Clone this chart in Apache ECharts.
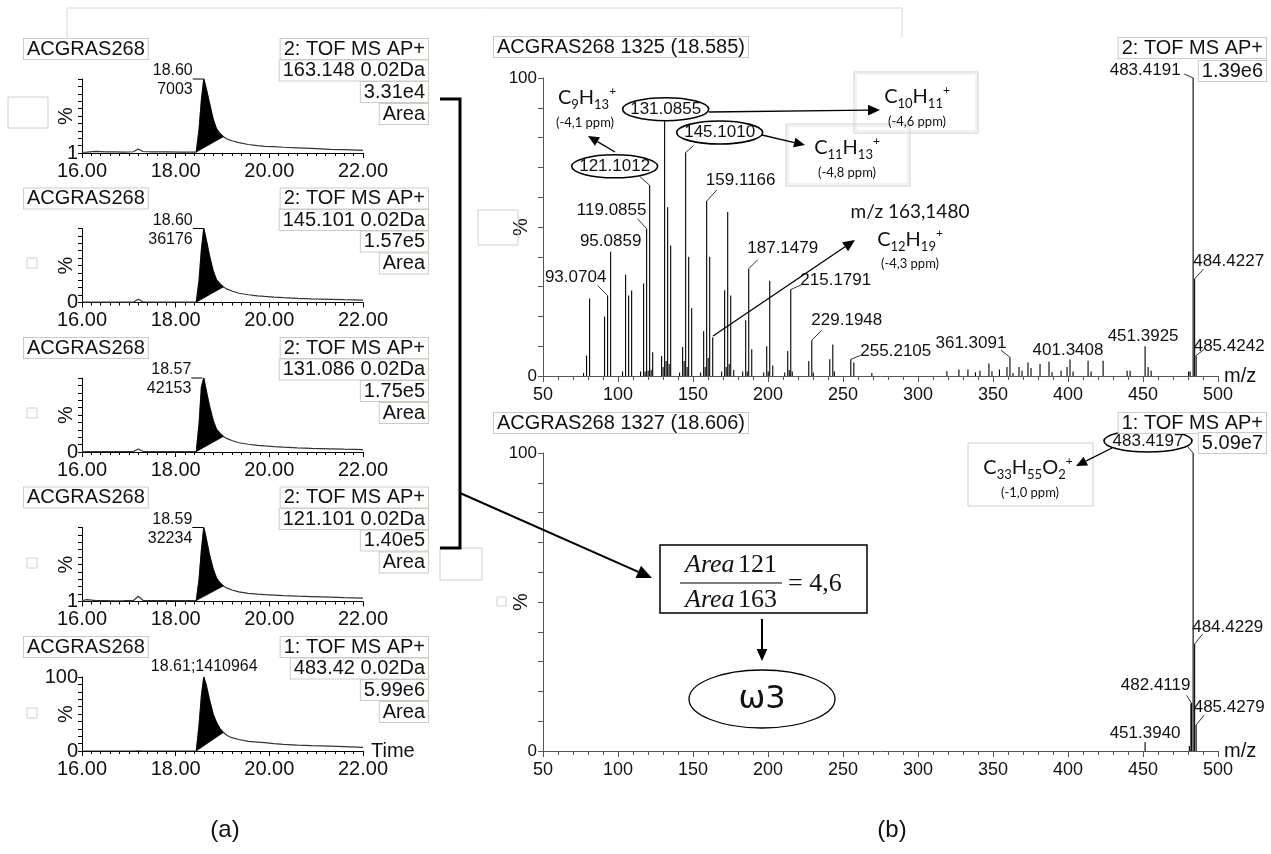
<!DOCTYPE html>
<html>
<head>
<meta charset="utf-8">
<script src="https://cdn.jsdelivr.net/npm/echarts@6/dist/echarts.min.js"></script>
<style>
html, body { margin: 0; padding: 0; background: #fff; }
#main { width: 1271px; height: 854px; }
</style>
</head>
<body>
<div id="main"></div>
<script>
// ---- chromatograms (a) ----
var chromTime = [16.00, 16.10, 16.30, 16.50, 16.70, 16.90, 17.10, 17.20, 17.30, 17.50, 17.80, 18.10, 18.44, 18.50, 18.55, 18.60, 18.65, 18.72, 18.80, 18.87, 18.95, 19.02, 19.10, 19.20, 19.35, 19.55, 19.75, 19.90, 20.10, 20.30, 20.60, 20.90, 21.30, 21.60, 22.00];
var int163 = [1.0, 1.3, 2.2, 1.4, 1.6, 1.3, 1.7, 5.5, 2.0, 1.6, 1.5, 1.3, 1.2, 32, 72, 100, 88, 68, 46, 33, 26, 22, 19, 16.5, 14, 11.5, 10, 9, 8.5, 7.8, 7, 6.2, 5, 4.5, 3.5];
var int145 = [0.4, 0.4, 0.6, 0.5, 0.7, 0.5, 0.6, 4.5, 1.0, 0.6, 0.5, 0.5, 0.5, 30, 72, 100, 86, 64, 43, 31, 25, 21, 18, 15.5, 12.5, 10.5, 9, 8.2, 7.3, 6.5, 5.6, 5, 4.3, 3.8, 3.2];
var int131 = [0.3, 0.4, 0.5, 0.5, 0.6, 0.5, 0.6, 4.0, 0.9, 0.6, 0.5, 0.5, 0.5, 38, 88, 100, 84, 63, 43, 31, 25, 21, 18, 15.5, 12.5, 10.5, 9, 8.2, 7.3, 6.5, 5.6, 5, 4.3, 3.8, 3.2];
var int121 = [1.0, 2.5, 1.2, 1.2, 1.0, 1.1, 1.3, 7.0, 1.6, 1.3, 1.2, 1.2, 1.2, 30, 70, 100, 86, 64, 44, 32, 25, 21, 18, 15.5, 13, 11, 10, 9.3, 8.7, 8, 7.2, 6.6, 5.8, 5.2, 4.5];
var int483 = [0, 0, 0, 0, 0, 0, 0, 0.2, 0, 0, 0, 0, 0, 35, 75, 100, 90, 70, 50, 39, 30, 25, 21, 18, 15.5, 13, 12, 11.2, 10, 9, 8, 7.2, 6.5, 5.8, 5];
var chromInt = [int163, int145, int131, int121, int483];
var chromFunc = ['2: TOF MS AP+', '2: TOF MS AP+', '2: TOF MS AP+', '2: TOF MS AP+', '1: TOF MS AP+'];
var chromMass = ['163.148 0.02Da', '145.101 0.02Da', '131.086 0.02Da', '121.101 0.02Da', '483.42 0.02Da'];
var chromTotal = ['3.31e4', '1.57e5', '1.75e5', '1.40e5', '5.99e6'];
var chromYMin = ['1', '0', '0', '1', '0'];
var chromPeakTime = [18.60, 18.60, 18.57, 18.59, 18.61];
var chromPeakCount = ['7003', '36176', '42153', '32234', '1410964'];
var chromFillStart = [18.44, 18.44, 18.44, 18.44, 18.44];
var chromFillEnd = [19.02, 19.02, 19.02, 19.02, 19.02];
var sampleName = 'ACGRAS268';

// ---- mass spectra (b) ----
var topMz = [77.04, 79.05, 81.07, 91.05, 93.0704, 95.0859, 103.05, 105.07, 107.09, 109.10, 115.05, 117.07, 118.08, 119.0855, 120.09, 121.1012, 122.10, 123.12, 129.07, 130.08, 131.0855, 132.09, 133.10, 134.10, 135.12, 141.07, 143.09, 144.09, 145.1010, 146.10, 147.12, 149.13, 155.09, 157.10, 158.11, 159.1166, 160.12, 161.13, 163.148, 169.10, 171.10, 172.11, 173.13, 174.13, 175.15, 177.16, 183.12, 185.13, 186.14, 187.1479, 189.16, 197.13, 199.15, 200.15, 201.16, 203.18, 211.15, 213.16, 214.17, 215.1791, 216.18, 227.18, 229.1948, 230.20, 241.19, 243.21, 244.21, 255.2105, 257.23, 269.23, 319.26, 327.28, 333.29, 338.30, 341.30, 347.29, 349.31, 354.30, 359.32, 361.3091, 363.32, 367.34, 369.35, 373.33, 375.35, 381.35, 387.35, 389.36, 395.37, 399.36, 401.3408, 403.36, 413.38, 415.39, 423.40, 439.40, 441.41, 451.3925, 453.40, 455.42, 480.40, 481.41, 483.4191, 484.4227, 485.4242];
var topPct = [1.0, 6.9, 26, 20, 27, 41.7, 1.5, 34, 27, 28.7, 1.5, 31, 1.5, 49.4, 1.8, 64, 2.0, 8, 6.7, 3, 85.5, 5, 56.6, 4, 43.8, 1.2, 9.7, 5, 75, 3, 40, 22.7, 1.2, 15, 3, 58.7, 6, 40, 13, 1.5, 28.8, 3, 55, 4, 27, 2, 1.5, 18.7, 1.5, 36, 9, 1.2, 10, 1.5, 32, 3.5, 1.2, 8.4, 2, 29, 1.5, 5, 12, 1.2, 5.6, 10.6, 1.5, 5.6, 4.5, 1.0, 1.6, 2.2, 2.2, 1.3, 1.8, 4.2, 1.6, 2.2, 3, 6.3, 1.0, 3, 1.8, 4.5, 2.7, 4, 4.8, 1.3, 1.8, 3, 5.5, 1.5, 5.1, 1.5, 5.1, 1.8, 1.8, 10, 3, 1.8, 1.5, 1.5, 100, 32.6, 6.9];
var topLabels = ['93.0704', '95.0859', '119.0855', '121.1012', '131.0855', '145.1010', '159.1166', '187.1479', '215.1791', '229.1948', '255.2105', '361.3091', '401.3408', '451.3925', '483.4191', '484.4227', '485.4242'];
var topCircled = ['121.1012', '131.0855', '145.1010'];

var bottomMz = [451.3940, 480.90, 481.95, 482.4119, 483.4197, 484.4229, 485.4279];
var bottomPct = [3.0, 1.7, 16, 16, 100, 35.9, 8.7];
var bottomLabels = ['451.3940', '482.4119', '484.4229', '485.4279'];

var FONT = 'Liberation Sans, Arial, sans-serif';
var CAL = 'Lato, Open Sans, sans-serif';

// label placement relative to the peak top (text centre dx/dy, leader end lx/ly)
var labelNudge = {
    '93.0704': { dx: -32, dy: -18, lx: -10, ly: -10 },
    '95.0859': { dx: 0, dy: -10 },
    '119.0855': { dx: -35, dy: -18, lx: -9, ly: -10 },
    '121.1012': { dx: -35, dy: -19, lx: -10, ly: -9 },
    '131.0855': { dx: 1, dy: -12 },
    '145.1010': { dx: 34, dy: -20, lx: 8, ly: -7 },
    '159.1166': { dx: 34, dy: -21, lx: 10, ly: -11 },
    '187.1479': { dx: 34, dy: -20, lx: 9, ly: -9 },
    '215.1791': { dx: 45, dy: -9, lx: 11, ly: -5 },
    '229.1948': { dx: 35, dy: -20, lx: 10, ly: -10 },
    '255.2105': { dx: 45, dy: -8, lx: 10, ly: -4 },
    '361.3091': { dx: -39, dy: -14, lx: -9, ly: -7 },
    '401.3408': { dx: -2, dy: -9 },
    '451.3925': { dx: -2, dy: -10 },
    '483.4191': { dx: -48, dy: -8, lx: -9, ly: -4 },
    '484.4227': { dx: 34, dy: -18, lx: 9, ly: -10 },
    '485.4242': { dx: 33, dy: -9, lx: 8, ly: -6 },
    '451.3940': { dx: 0, dy: -9 },
    '482.4119': { dx: -36, dy: -18, lx: -5, ly: -8 },
    '484.4229': { dx: 33, dy: -17, lx: 8, ly: -10 },
    '485.4279': { dx: 33, dy: -18, lx: 8, ly: -10 }
};

var chart = echarts.init(document.getElementById('main'), null, { renderer: 'canvas' });

function zip(a, b) {
    return a.map(function (v, k) { return [v, b[k]]; });
}

function pctOf(mzList, pctList, label) {
    var mz = parseFloat(label), best = 0, bd = 1e9;
    mzList.forEach(function (m, k) {
        if (Math.abs(m - mz) < bd) { bd = Math.abs(m - mz); best = k; }
    });
    return [mzList[best], pctList[best]];
}

var grids = [], xAxes = [], yAxes = [], series = [];

// chromatogram panels
for (var i = 0; i < 5; i++) {
    grids.push({ left: 82, top: 79 + 149.5 * i, width: 281, height: 74 });
    xAxes.push({
        type: 'value', gridIndex: i, min: 16, max: 22, interval: 2,
        axisLine: { onZero: false, lineStyle: { color: '#000', width: 1 } },
        axisTick: { length: 5, lineStyle: { color: '#000' } },
        minorTick: { show: true, splitNumber: 10, length: 3, lineStyle: { color: '#000' } },
        splitLine: { show: false },
        axisLabel: {
            formatter: function (v) { return v.toFixed(2); },
            fontSize: 20, color: '#111', fontFamily: FONT, margin: 8,
            showMinLabel: true, showMaxLabel: true
        },
        name: i === 4 ? 'Time' : '',
        nameGap: 8, nameMoveOverlap: false,
        nameTextStyle: { fontSize: 20, color: '#111', fontFamily: FONT }
    });
    yAxes.push({
        type: 'value', gridIndex: i, min: 0, max: 100, interval: 10,
        axisLine: { show: true, lineStyle: { color: '#000' } },
        axisTick: { show: true, length: 4, lineStyle: { color: '#000' } },
        splitLine: { show: false },
        axisLabel: {
            formatter: (function (i) {
                return function (v) {
                    if (v === 0) return chromYMin[i];
                    if (v === 100 && i === 4) return '100';
                    return '';
                };
            })(i),
            fontSize: 20, color: '#111', fontFamily: FONT, margin: 4
        },
        name: '%', nameLocation: 'middle', nameRotate: 90, nameGap: 6, nameMoveOverlap: false,
        nameTextStyle: { fontSize: 20, color: '#111', fontFamily: FONT }
    });
    series.push({
        type: 'line', xAxisIndex: i, yAxisIndex: i,
        data: zip(chromTime, chromInt[i]),
        showSymbol: false, silent: true, z: 2,
        lineStyle: { color: '#333', width: 1.2 }
    });
    series.push({
        type: 'custom', xAxisIndex: i, yAxisIndex: i, z: 3,
        data: [[chromPeakTime[i], 100]],
        renderItem: (function (i) {
            return function (params, api) {
                var pts = [];
                chromTime.forEach(function (t, k) {
                    if (t >= chromFillStart[i] && t <= chromFillEnd[i]) {
                        pts.push(api.coord([t, chromInt[i][k]]));
                    }
                });
                var top = api.coord([api.value(0), api.value(1)]);
                var kids = [{
                    type: 'polygon', shape: { points: pts },
                    style: { fill: '#000', stroke: '#000', lineWidth: 0.6 }
                }];
                var ts = { fontSize: 16, fontFamily: FONT, fill: '#111', verticalAlign: 'middle' };
                if (i === 4) {
                    kids.push({ type: 'text', x: top[0], y: top[1] - 10,
                        style: Object.assign({ text: chromPeakTime[i].toFixed(2) + ';' + chromPeakCount[i], align: 'center' }, ts) });
                } else {
                    kids.push({ type: 'line', shape: { x1: top[0] - 11, y1: top[1], x2: top[0], y2: top[1] },
                        style: { stroke: '#000', lineWidth: 1 } });
                    kids.push({ type: 'text', x: top[0] - 11, y: top[1] - 8,
                        style: Object.assign({ text: chromPeakTime[i].toFixed(2), align: 'right' }, ts) });
                    kids.push({ type: 'text', x: top[0] - 11, y: top[1] + 11,
                        style: Object.assign({ text: chromPeakCount[i], align: 'right' }, ts) });
                }
                return { type: 'group', children: kids };
            };
        })(i)
    });
}

// spectra panels
var specGrid = [
    { left: 543, top: 78, width: 675, height: 298 },
    { left: 543, top: 453, width: 675, height: 298 }
];
specGrid.forEach(function (gr, s) {
    var gi = 5 + s;
    grids.push(gr);
    xAxes.push({
        type: 'value', gridIndex: gi, min: 50, max: 500, interval: 50,
        axisLine: { onZero: false, lineStyle: { color: '#555' } },
        axisTick: { length: 6, lineStyle: { color: '#555' } },
        minorTick: { show: true, splitNumber: 5, length: 4, lineStyle: { color: '#555' } },
        splitLine: { show: false },
        axisLabel: { fontSize: 18, color: '#111', fontFamily: FONT, margin: 10, showMinLabel: true, showMaxLabel: true },
        name: 'm/z', nameGap: 6, nameMoveOverlap: false,
        nameTextStyle: { fontSize: 20, color: '#111', fontFamily: FONT }
    });
    yAxes.push({
        type: 'value', gridIndex: gi, min: 0, max: 100, interval: 10,
        axisLine: { show: true, lineStyle: { color: '#555' } },
        axisTick: { show: true, length: 5, lineStyle: { color: '#555' } },
        splitLine: { show: false },
        axisLabel: {
            formatter: function (v) { return (v === 0 || v === 100) ? String(v) : ''; },
            fontSize: 17, color: '#111', fontFamily: FONT, margin: 6
        },
        name: '%', nameLocation: 'middle', nameRotate: 90, nameGap: 12, nameMoveOverlap: false,
        nameTextStyle: { fontSize: 20, color: '#111', fontFamily: FONT }
    });
});

function stickItem(params, api) {
    var a = api.coord([api.value(0), 0]);
    var b = api.coord([api.value(0), api.value(1)]);
    return { type: 'line', shape: { x1: a[0], y1: a[1], x2: b[0], y2: b[1] },
        style: { stroke: '#000', lineWidth: 1.1 } };
}

function labelRenderer(labels) {
    return function (params, api) {
        var lab = labels[params.dataIndex];
        var n = labelNudge[lab] || { dx: 0, dy: -9 };
        var p = api.coord([api.value(0), api.value(1)]);
        var kids = [];
        if (n.lx || n.ly) {
            kids.push({ type: 'line', shape: { x1: p[0], y1: p[1], x2: p[0] + n.lx, y2: p[1] + n.ly },
                style: { stroke: '#333', lineWidth: 1 } });
        }
        if (topCircled.indexOf(lab) >= 0) {
            kids.push({ type: 'ellipse', shape: { cx: p[0] + n.dx, cy: p[1] + n.dy, rx: 43, ry: 11.5 },
                style: { fill: '#fff', stroke: '#000', lineWidth: 1.6 } });
        }
        kids.push({ type: 'text', x: p[0] + n.dx, y: p[1] + n.dy,
            style: { text: lab, fill: '#111', fontSize: 17, fontFamily: FONT, align: 'center', verticalAlign: 'middle' } });
        return { type: 'group', children: kids };
    };
}

series.push({ type: 'custom', xAxisIndex: 5, yAxisIndex: 5, z: 2, data: zip(topMz, topPct), renderItem: stickItem });
series.push({ type: 'custom', xAxisIndex: 6, yAxisIndex: 6, z: 2, data: zip(bottomMz, bottomPct), renderItem: stickItem });
series.push({ type: 'custom', xAxisIndex: 5, yAxisIndex: 5, z: 4,
    data: topLabels.map(function (l) { return pctOf(topMz, topPct, l); }), renderItem: labelRenderer(topLabels) });
series.push({ type: 'custom', xAxisIndex: 6, yAxisIndex: 6, z: 4,
    data: bottomLabels.map(function (l) { return pctOf(bottomMz, bottomPct, l); }), renderItem: labelRenderer(bottomLabels) });

// ---- annotations ----
var g = [];

function boxText(x, y, txt, align, size) {
    return { type: 'text', x: x, y: y, z: 100,
        style: { text: txt, fontSize: size || 20, fontFamily: FONT, fill: '#111', align: align || 'left', verticalAlign: 'middle',
            backgroundColor: '#fff', borderColor: '#d2c9bf', borderWidth: 1, padding: [0, 3, 0, 3] } };
}
function plainText(x, y, txt, size, family, align) {
    return { type: 'text', x: x, y: y, z: 100,
        style: { text: txt, fontSize: size, fontFamily: family || FONT, fill: '#111', align: align || 'center', verticalAlign: 'middle' } };
}
function arrow(x1, y1, x2, y2, w, head) {
    var a = Math.atan2(y2 - y1, x2 - x1), L = head || 12, W = L * 0.45;
    var bx = x2 - L * Math.cos(a), by = y2 - L * Math.sin(a);
    return [
        { type: 'line', z: 100, shape: { x1: x1, y1: y1, x2: bx, y2: by }, style: { stroke: '#000', lineWidth: w } },
        { type: 'polygon', z: 100, shape: { points: [[x2, y2], [bx - W * Math.sin(a), by + W * Math.cos(a)], [bx + W * Math.sin(a), by - W * Math.cos(a)]] },
            style: { fill: '#000' } }
    ];
}
function rectLine(x, y, w, h, color, lw) {
    return { type: 'rect', z: 90, shape: { x: x, y: y, width: w, height: h }, style: { fill: 'none', stroke: color, lineWidth: lw || 1 } };
}
var formulaRich = {
    n: { fontSize: 20, fontFamily: CAL, fill: '#111', lineHeight: 26 },
    b: { fontSize: 13, fontFamily: CAL, fill: '#111', verticalAlign: 'bottom', lineHeight: 26 },
    p: { fontSize: 12, fontFamily: CAL, fill: '#111', verticalAlign: 'top', lineHeight: 26 }
};
function formula(x, y, str) {
    return { type: 'text', x: x, y: y, z: 100,
        style: { text: str, rich: formulaRich, align: 'center', verticalAlign: 'middle' } };
}

// faint frame artefacts from the original figure
g.push({ type: 'polyline', z: 1, shape: { points: [[67, 38], [67, 8], [902, 8], [902, 38]] }, style: { stroke: '#d8d8d8', lineWidth: 1, fill: 'none' } });
g.push(rectLine(8, 97, 40, 31, '#d0d0d0'));
g.push(rectLine(478, 210, 40, 35, '#d0d0d0'));
g.push(rectLine(440, 548, 42, 32, '#d0d0d0'));
[263, 413, 563, 713].forEach(function (y) { g.push(rectLine(27, y - 5, 10, 10, '#d0d0d0')); });
g.push(rectLine(497, 597, 9, 9, '#d0d0d0'));

// chromatogram headers
for (var k = 0; k < 5; k++) {
    var y0 = 49 + 149.5 * k;
    g.push(boxText(24, y0, sampleName, 'left'));
    g.push(boxText(428, y0, chromFunc[k], 'right'));
    g.push(boxText(428, y0 + 21.5, chromMass[k], 'right'));
    g.push(boxText(428, y0 + 43, chromTotal[k], 'right'));
    g.push(boxText(428, y0 + 65, 'Area', 'right'));
}

// spectrum headers
g.push(boxText(494, 47, sampleName + ' 1325 (18.585)', 'left'));
g.push(boxText(1266, 48, '2: TOF MS AP+', 'right'));
g.push(boxText(1266, 71, '1.39e6', 'right'));
g.push(boxText(494, 423, sampleName + ' 1327 (18.606)', 'left'));
g.push(boxText(1266, 423, '1: TOF MS AP+', 'right'));
g.push(boxText(1266, 443, '5.09e7', 'right'));
g.push({ type: 'ellipse', z: 99, shape: { cx: 1148, cy: 441, rx: 44, ry: 11 }, style: { fill: '#fff', stroke: '#000', lineWidth: 1.6 } });
g.push(plainText(1148, 441, '483.4197', 17));
g.push({ type: 'line', z: 99, shape: { x1: 1188, y1: 447, x2: 1193, y2: 453 }, style: { stroke: '#333', lineWidth: 1 } });

// fragment formula annotations
g.push(formula(587, 98, '{n|C}{b|9}{n|H}{b|13}{p|+}'));
g.push(plainText(585, 123, '(-4,1 ppm)', 13, CAL));
g.push(rectLine(854, 72, 124, 61, '#cfcfcf'));
g.push(rectLine(856, 74, 120, 57, '#e6e6e6'));
g.push(formula(917, 97, '{n|C}{b|10}{n|H}{b|11}{p|+}'));
g.push(plainText(917, 122, '(-4,6 ppm)', 13, CAL));
g.push(rectLine(786, 124, 124, 62, '#cfcfcf'));
g.push(rectLine(788, 126, 120, 58, '#e6e6e6'));
g.push(formula(847, 148, '{n|C}{b|11}{n|H}{b|13}{p|+}'));
g.push(plainText(847, 173, '(-4,8 ppm)', 13, CAL));
g.push(plainText(910, 212, 'm/z 163,1480', 19, CAL));
g.push(formula(910, 240, '{n|C}{b|12}{n|H}{b|19}{p|+}'));
g.push(plainText(910, 264, '(-4,3 ppm)', 13, CAL));
g.push(rectLine(968, 443, 125, 63, '#cfcfcf'));
g.push(formula(1028, 468, '{n|C}{b|33}{n|H}{b|55}{n|O}{b|2}{p|+}'));
g.push(plainText(1030, 493, '(-1,0 ppm)', 13, CAL));

g = g.concat(arrow(709, 112, 880, 110, 1.3, 12));
g = g.concat(arrow(762, 135, 805, 145, 1.3, 11));
g = g.concat(arrow(615, 152, 588, 136, 1.3, 11));
g = g.concat(arrow(713, 336, 855, 240, 1.3, 12));
g = g.concat(arrow(1112, 448, 1076, 466, 1.3, 11));

// bracket, ratio box and omega-3 bubble
g.push({ type: 'polyline', z: 100, shape: { points: [[440, 99], [460, 99], [460, 548], [440, 548]] }, style: { stroke: '#000', lineWidth: 3, fill: 'none' } });
g = g.concat(arrow(460, 493, 652, 578, 2, 15));
g.push({ type: 'rect', z: 100, shape: { x: 660, y: 545, width: 207, height: 68 }, style: { fill: '#fff', stroke: '#000', lineWidth: 1.5 } });
var mathRich = {
    i: { fontSize: 26, fontFamily: 'Liberation Serif, serif', fontStyle: 'italic', fill: '#111' },
    n: { fontSize: 26, fontFamily: 'Liberation Serif, serif', fill: '#111' }
};
g.push({ type: 'text', x: 731, y: 565, z: 101, style: { text: '{i|Area} {n|121}', rich: mathRich, align: 'center', verticalAlign: 'middle' } });
g.push({ type: 'line', z: 101, shape: { x1: 680, y1: 583, x2: 782, y2: 583 }, style: { stroke: '#000', lineWidth: 1.2 } });
g.push({ type: 'text', x: 731, y: 600, z: 101, style: { text: '{i|Area} {n|163}', rich: mathRich, align: 'center', verticalAlign: 'middle' } });
g.push({ type: 'text', x: 788, y: 584, z: 101, style: { text: '{n|= 4,6}', rich: mathRich, align: 'left', verticalAlign: 'middle' } });
g = g.concat(arrow(762, 619, 762, 661, 2, 12));
g.push({ type: 'ellipse', z: 100, shape: { cx: 762, cy: 699, rx: 73, ry: 29 }, style: { fill: '#fff', stroke: '#000', lineWidth: 1.3 } });
g.push(plainText(762, 700, 'ω3', 32, 'DejaVu Sans, sans-serif'));

g.push(plainText(225, 830, '(a)', 24));
g.push(plainText(892, 830, '(b)', 24));

var option = {
    animation: false,
    backgroundColor: '#fff',
    grid: grids,
    xAxis: xAxes,
    yAxis: yAxes,
    series: series,
    graphic: { elements: g }
};

chart.setOption(option);
</script>
</body>
</html>
